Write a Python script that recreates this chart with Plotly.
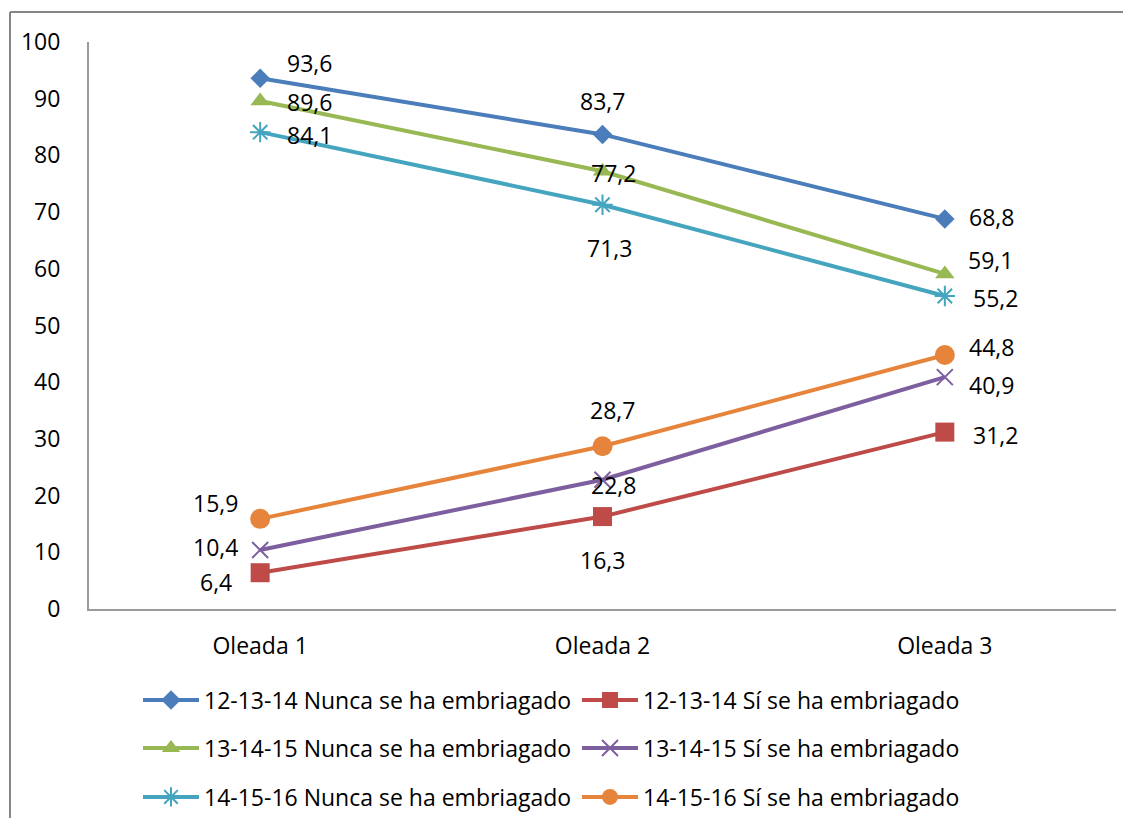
import plotly.graph_objects as go

categories = ["Oleada 1", "Oleada 2", "Oleada 3"]

series_names = [
    "12-13-14 Nunca se ha embriagado",
    "12-13-14 Sí se ha embriagado",
    "13-14-15 Nunca se ha embriagado",
    "13-14-15 Sí se ha embriagado",
    "14-15-16 Nunca se ha embriagado",
    "14-15-16 Sí se ha embriagado",
]

nunca_12_13_14 = [93.6, 83.7, 68.8]
si_12_13_14 = [6.4, 16.3, 31.2]
nunca_13_14_15 = [89.6, 77.2, 59.1]
si_13_14_15 = [10.4, 22.8, 40.9]
nunca_14_15_16 = [84.1, 71.3, 55.2]
si_14_15_16 = [15.9, 28.7, 44.8]

values = [nunca_12_13_14, si_12_13_14, nunca_13_14_15, si_13_14_15, nunca_14_15_16, si_14_15_16]

colors = ["#4A7DBA", "#BE4B48", "#97B853", "#7D5FA0", "#45A5BF", "#E5843A"]
symbols = ["diamond", "square", "triangle-up", "x-thin-open", "asterisk-open", "circle"]
sizes = [15, 19, 17, 16, 17, 20]
# label offsets (pixels: dx right, dy down) for each point
label_offsets = [
    [(49, -15), (0, -33), (47, -2)],
    [(-44, 9), (0, 43), (51, 3)],
    [(49, 1), (11, 2), (46, -14)],
    [(-45, -3), (11, 5), (47, 8)],
    [(49, 3), (7, 43), (51, 2)],
    [(-45, -16), (10, -36), (47, -8)],
]
legend_ids = ["legend", "legend", "legend2", "legend2", "legend3", "legend3"]

FONT = "'Open Sans', sans-serif"
FS = 23
OFF = 8  # page body margin offset
W, H = 1131 - 2 * OFF, 826 - 2 * OFF

fig = go.Figure()
annotations = []
for name, vals, col, sym, sz, offs, lg in zip(series_names, values, colors, symbols, sizes, label_offsets, legend_ids):
    open_sym = sym.endswith("open")
    fig.add_trace(go.Scatter(
        x=categories, y=vals, name=name, mode="lines+markers",
        line=dict(color=col, width=4),
        marker=dict(symbol=sym, size=sz, color=col,
                    line=dict(color=col, width=2 if open_sym else 0)),
        legend=lg,
        cliponaxis=False,
    ))
    for c, v, (dx, dy) in zip(categories, vals, offs):
        annotations.append(dict(
            x=c, y=v, xref="x", yref="y", text=f"{v:.1f}".replace(".", ","),
            showarrow=False, xshift=dx, yshift=-dy,
            xanchor="center", yanchor="middle",
            font=dict(family=FONT, size=FS, color="#000000"),
        ))

legend_common = dict(
    orientation="h", xref="container", yref="container",
    xanchor="left", yanchor="middle",
    font=dict(family=FONT, size=FS, color="#000000"),
    entrywidth=368, entrywidthmode="pixels", itemwidth=56,
    bgcolor="rgba(0,0,0,0)",
)

bx0 = (OFF + 2 - 89) / 1027
bx1 = (1150 - 89) / 1027
by0 = (609 - 850) / 567
by1 = (609 - 12) / 567
border = dict(color="#868686", width=2)

fig.update_layout(
    width=W, height=H,
    margin=dict(l=89 - OFF, r=W - (1116 - OFF), t=42 - OFF, b=H - (609 - OFF)),
    paper_bgcolor="white", plot_bgcolor="white",
    font=dict(family=FONT, size=FS, color="#000000"),
    showlegend=True,
    legend=dict(x=(138 - OFF) / W, y=1 - (700 - OFF) / H, **legend_common),
    legend2=dict(x=(138 - OFF) / W, y=1 - (748 - OFF) / H, **legend_common),
    legend3=dict(x=(138 - OFF) / W, y=1 - (797 - OFF) / H, **legend_common),
    xaxis=dict(
        type="category", range=[-0.5, 2.5], showgrid=False, zeroline=False,
        showline=True, linecolor="#9A9A9A", linewidth=2, ticks="",
        tickfont=dict(family=FONT, size=FS, color="#000000"),
        ticklabelstandoff=15,
    ),
    yaxis=dict(
        range=[0, 100], dtick=10, showgrid=False, zeroline=False,
        showline=True, linecolor="#9A9A9A", linewidth=2, ticks="",
        tickfont=dict(family=FONT, size=FS, color="#000000"),
        ticklabelstandoff=22,
    ),
    annotations=annotations,
    shapes=[
        dict(type="line", xref="paper", yref="paper", x0=bx0, x1=bx1, y0=by1, y1=by1,
             line=border, layer="below"),
        dict(type="line", xref="paper", yref="paper", x0=bx0, x1=bx0, y0=by0, y1=by1,
             line=border, layer="below"),
    ],
)

fig.write_html("out.html")
